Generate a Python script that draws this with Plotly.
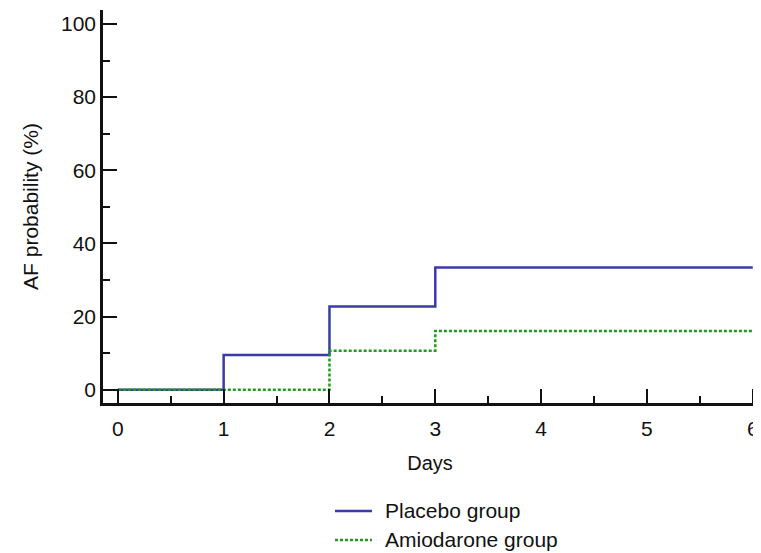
import plotly.graph_objects as go

days = [0, 1, 2, 3, 6]
placebo = [0, 9.5, 22.8, 33.4, 33.4]
amiodarone = [0, 0, 10.7, 16.1, 16.1]
series_names = ["Placebo group", "Amiodarone group"]
series_colors = ["#3b3ba6", "#1f9a1f"]
series_dash = ["solid", "3px,2px"]

x_ticks = [0, 1, 2, 3, 4, 5, 6]
y_ticks = [0, 20, 40, 60, 80, 100]

fig = go.Figure()
for vals, name, col, dash in zip([placebo, amiodarone], series_names, series_colors, series_dash):
    fig.add_trace(go.Scatter(x=days, y=vals, mode="lines", name=name,
                             line=dict(shape="hv", color=col, width=2.5, dash=dash)))

FAM = "Liberation Sans, Arial, sans-serif"
font = dict(family=FAM, size=21, color="#111111")

# legend drawn in paper coordinates (below the plot)
leg_y = [-0.2748, -0.3486]
for yy, name, col, dash in zip(leg_y, series_names, series_colors, series_dash):
    fig.add_shape(type="line", xref="paper", yref="paper", x0=0.3547, x1=0.4113, y0=yy, y1=yy,
                  line=dict(color=col, width=2.5, dash=dash))
    fig.add_annotation(xref="paper", yref="paper", x=0.4281, y=yy, text=name, showarrow=False,
                       xanchor="left", yanchor="middle", font=font)

fig.update_layout(
    width=753, height=545,
    margin=dict(l=95, r=4, t=2, b=150),
    paper_bgcolor="white", plot_bgcolor="white",
    font=font,
    showlegend=False,
    xaxis=dict(range=[-0.14, 6.04], tickvals=x_ticks, ticktext=[str(v) for v in x_ticks],
               automargin=False, ticklabeloverflow="allow", tickfont=font, ticklabelstandoff=5,
               showgrid=False, zeroline=False, showline=True, linecolor="#111111", linewidth=2.5,
               ticks="inside", ticklen=14, tickwidth=2, tickcolor="#111111",
               minor=dict(ticks="inside", ticklen=7, dtick=0.5, tickwidth=1.5, tickcolor="#111111", showgrid=False),
               title=dict(text="Days", standoff=18, font=dict(family=FAM, size=20, color="#111111"))),
    yaxis=dict(range=[-3.6, 103.8], tickvals=y_ticks, ticktext=[str(v) for v in y_ticks],
               automargin=False, ticklabeloverflow="allow", tickfont=font,
               showgrid=False, zeroline=False, showline=True, linecolor="#111111", linewidth=2.5,
               ticks="inside", ticklen=14, tickwidth=2, tickcolor="#111111",
               minor=dict(ticks="inside", ticklen=7, dtick=10, tickwidth=1.5, tickcolor="#111111", showgrid=False),
               title=dict(text="AF probability (%)", standoff=17, font=font)),
)
fig.write_html("out.html")
